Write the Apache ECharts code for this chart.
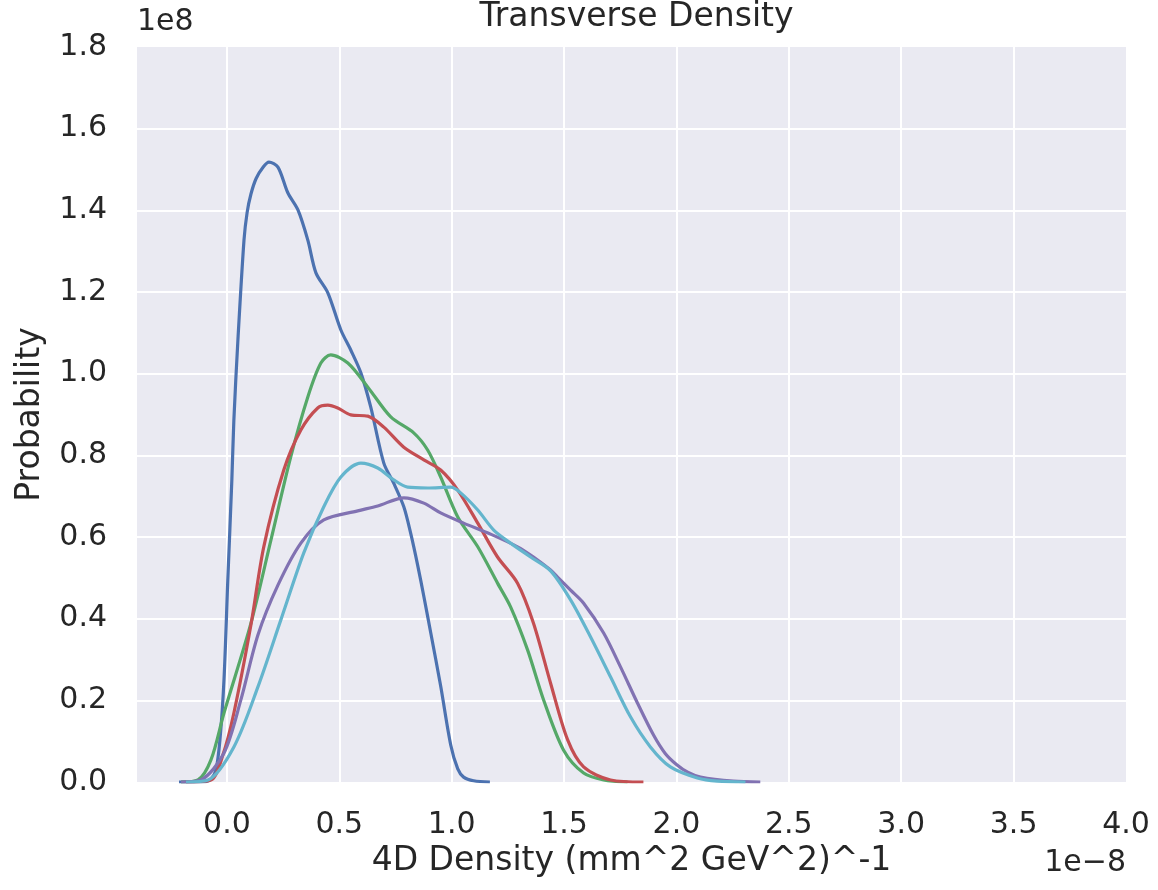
<!DOCTYPE html>
<html>
<head>
<meta charset="utf-8">
<title>Transverse Density</title>
<script src="https://cdn.jsdelivr.net/npm/echarts@6/dist/echarts.min.js"></script>
<style>
  html, body { margin: 0; padding: 0; background: #ffffff; }
  #chart { width: 1158px; height: 890px; }
</style>
</head>
<body>
<div id="chart"></div>
<script>
// Kernel density estimates of the transverse 4D density.
// x in units of 1e-8 (mm^2 GeV^2)^-1, y in units of 1e8.
const densityBlue = [
  [-0.213, 0], [-0.093, 0.001], [-0.071, 0.007], [-0.049, 0.029], [-0.031, 0.103],
  [-0.013, 0.25], [0.004, 0.495], [0.022, 0.74], [0.031, 0.887], [0.049, 1.083],
  [0.076, 1.327], [0.09, 1.395], [0.107, 1.44], [0.13, 1.478], [0.16, 1.505],
  [0.187, 1.518], [0.227, 1.506], [0.271, 1.443], [0.316, 1.401], [0.36, 1.327],
  [0.396, 1.247], [0.449, 1.198], [0.507, 1.107], [0.551, 1.058], [0.596, 1.002],
  [0.64, 0.918], [0.698, 0.781], [0.742, 0.732], [0.787, 0.674], [0.818, 0.608],
  [0.849, 0.53], [0.876, 0.455], [0.907, 0.365], [0.951, 0.235], [0.996, 0.09],
  [1.027, 0.032], [1.053, 0.012], [1.098, 0.003], [1.17, 0]
];
const densityGreen = [
  [-0.204, 0], [-0.129, 0.005], [-0.071, 0.054], [-0.013, 0.169], [0.107, 0.389],
  [0.196, 0.593], [0.284, 0.796], [0.36, 0.943], [0.418, 1.026], [0.462, 1.046],
  [0.538, 1.026], [0.627, 0.967], [0.729, 0.894], [0.831, 0.855], [0.893, 0.813],
  [0.951, 0.747], [1.027, 0.649], [1.116, 0.576], [1.204, 0.487], [1.262, 0.429],
  [1.338, 0.323], [1.409, 0.201], [1.498, 0.078], [1.587, 0.022], [1.676, 0.005],
  [1.782, 0]
];
const densityRed = [
  [-0.182, 0], [-0.071, 0.005], [-0.018, 0.066], [0.031, 0.169], [0.107, 0.385],
  [0.164, 0.576], [0.253, 0.764], [0.329, 0.862], [0.404, 0.916], [0.449, 0.923],
  [0.493, 0.916], [0.551, 0.899], [0.627, 0.896], [0.698, 0.869], [0.787, 0.82],
  [0.876, 0.789], [0.951, 0.764], [1.027, 0.715], [1.116, 0.634], [1.204, 0.551],
  [1.293, 0.487], [1.364, 0.389], [1.44, 0.242], [1.516, 0.103], [1.587, 0.037],
  [1.707, 0.005], [1.853, 0]
];
const densityPurple = [
  [-0.204, 0], [-0.116, 0.005], [-0.013, 0.071], [0.062, 0.201], [0.138, 0.36],
  [0.227, 0.482], [0.329, 0.585], [0.431, 0.642], [0.582, 0.664], [0.671, 0.676],
  [0.787, 0.696], [0.876, 0.683], [0.951, 0.659], [1.053, 0.634], [1.173, 0.607],
  [1.293, 0.576], [1.364, 0.551], [1.44, 0.519], [1.471, 0.502], [1.529, 0.47],
  [1.587, 0.438], [1.676, 0.365], [1.751, 0.282], [1.827, 0.193], [1.898, 0.115],
  [1.95, 0.07], [2.0, 0.043], [2.05, 0.024], [2.107, 0.012], [2.253, 0.002],
  [2.373, 0]
];
const densityCyan = [
  [-0.182, 0], [-0.084, 0.005], [0.031, 0.086], [0.138, 0.233], [0.24, 0.397],
  [0.342, 0.561], [0.431, 0.674], [0.507, 0.747], [0.596, 0.781], [0.671, 0.769],
  [0.742, 0.74], [0.804, 0.722], [0.893, 0.72], [0.996, 0.722], [1.04, 0.708],
  [1.116, 0.666], [1.187, 0.617], [1.262, 0.585], [1.351, 0.551], [1.44, 0.517],
  [1.529, 0.446], [1.618, 0.355], [1.707, 0.257], [1.796, 0.159], [1.884, 0.086],
  [1.973, 0.037], [2.093, 0.01], [2.182, 0.002], [2.307, 0]
];

const seriesNames = ['sample 1', 'sample 2', 'sample 3', 'sample 4', 'sample 5'];
const seriesData = [densityBlue, densityGreen, densityRed, densityPurple, densityCyan];
const palette = ['#4C72B0', '#55A868', '#C44E52', '#8172B2', '#64B5CD'];

const titleText = 'Transverse Density';
const xAxisName = '4D Density (mm^2 GeV^2)^-1';
const yAxisName = 'Probability';
const xOffsetText = '1e\u22128';
const yOffsetText = '1e8';

const FONT = "'DejaVu Sans', 'Liberation Sans', sans-serif";
const INK = '#262626';

const GRID = { left: 137, right: 32, top: 47, bottom: 108 };
const plotCenterX = GRID.left + (1158 - GRID.left - GRID.right) / 2;

const chart = echarts.init(document.getElementById('chart'), null, { renderer: 'canvas' });

chart.setOption({
  backgroundColor: '#ffffff',
  animation: false,
  title: {
    text: titleText,
    left: plotCenterX,
    textAlign: 'center',
    top: -4,
    textStyle: { fontFamily: FONT, fontSize: 33, fontWeight: 'normal', color: INK }
  },
  grid: {
    left: GRID.left, right: GRID.right, top: GRID.top, bottom: GRID.bottom,
    show: true,
    backgroundColor: '#EAEAF2',
    borderWidth: 0
  },
  xAxis: {
    type: 'value',
    min: -0.4,
    max: 4.0,
    splitNumber: 9,
    name: xAxisName,
    nameLocation: 'middle',
    nameGap: 58,
    nameTextStyle: { fontFamily: FONT, fontSize: 33, color: INK },
    axisLine: { show: false },
    axisTick: { show: false },
    axisLabel: {
      showMinLabel: false,
      margin: 28,
      fontFamily: FONT, fontSize: 30, color: INK,
      formatter: v => v.toFixed(1)
    },
    splitLine: {
      show: true, showMinLine: false, showMaxLine: false,
      lineStyle: { color: '#ffffff', width: 2 }
    }
  },
  yAxis: {
    type: 'value',
    min: 0,
    max: 1.8,
    interval: 0.2,
    name: yAxisName,
    nameLocation: 'middle',
    nameGap: 90,
    nameTextStyle: { fontFamily: FONT, fontSize: 33, color: INK },
    axisLine: { show: false },
    axisTick: { show: false },
    axisLabel: {
      margin: 30,
      fontFamily: FONT, fontSize: 30, color: INK,
      formatter: v => v.toFixed(1)
    },
    splitLine: {
      show: true, showMinLine: false, showMaxLine: false,
      lineStyle: { color: '#ffffff', width: 2 }
    }
  },
  graphic: [
    {
      type: 'text', left: 137, top: 7,
      style: { text: yOffsetText, font: "30px 'DejaVu Sans'", fill: INK }
    },
    {
      type: 'text', right: 32, top: 848,
      style: { text: xOffsetText, font: "30px 'DejaVu Sans'", fill: INK }
    }
  ],
  series: seriesData.map((d, i) => ({
    name: seriesNames[i],
    type: 'line',
    data: d,
    smooth: 0.3,
    showSymbol: false,
    clip: true,
    lineStyle: { color: palette[i], width: 3.2 },
    itemStyle: { color: palette[i] },
    z: 2 + i
  }))
});
</script>
</body>
</html>
